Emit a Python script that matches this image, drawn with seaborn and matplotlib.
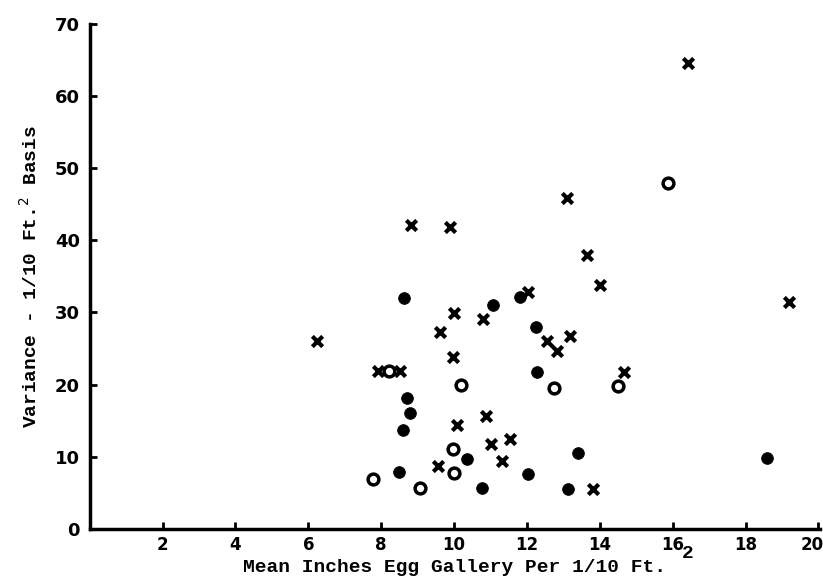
import matplotlib
matplotlib.use('Agg')
from matplotlib import pyplot as plt
from matplotlib import transforms
import seaborn as sns

# solid dots
dot_x = [8.62, 11.08, 11.81, 12.24, 12.29, 8.70, 8.79, 8.61, 10.35, 8.50, 12.02, 10.76, 13.14, 13.41, 18.58]
dot_y = [31.96, 31.0, 32.2, 28.03, 21.7, 18.14, 16.1, 13.7, 9.63, 7.91, 7.59, 5.65, 5.47, 10.5, 9.85]

# ringed dots
ring_x = [8.21, 10.18, 12.75, 9.98, 10.0, 7.78, 9.06, 15.88, 14.49]
ring_y = [21.88, 19.94, 19.53, 11.0, 7.68, 6.85, 5.65, 48.02, 19.8]

# crosses
cross_x = [16.41, 8.82, 9.89, 13.11, 13.64, 14.0, 9.997, 10.80, 12.04, 6.23, 9.61, 12.56,
           12.82, 13.18, 9.98, 7.92, 8.53, 19.18, 14.66, 10.89, 10.09, 11.53, 11.01, 11.31,
           9.55, 13.82]
cross_y = [64.67, 42.1, 41.9, 45.85, 37.98, 33.8, 29.9, 29.06, 32.85, 26.05, 27.25, 26.05,
           24.66, 26.8, 23.87, 21.93, 21.93, 31.5, 21.8, 15.7, 14.35, 12.45, 11.75, 9.44,
           8.7, 5.55]

x_ticks = [2, 4, 6, 8, 10, 12, 14, 16, 18, 20]
y_ticks = [0, 10, 20, 30, 40, 50, 60, 70]

sns.set_style('ticks')
plt.rcParams['font.family'] = ['DejaVu Sans']
plt.rcParams['text.color'] = 'black'
plt.rcParams['axes.labelcolor'] = 'black'
plt.rcParams['xtick.color'] = 'black'
plt.rcParams['ytick.color'] = 'black'

fig = plt.figure(figsize=(8.23, 5.79), dpi=100)
ax = fig.add_axes([0.109, 0.087, 0.8876, 0.8711])

sns.scatterplot(x=dot_x, y=dot_y, marker='o', s=70, color='black', edgecolor='black', ax=ax)
sns.scatterplot(x=ring_x, y=ring_y, marker='o', s=60, facecolor='white', edgecolor='black',
                linewidth=2.5, ax=ax)
sns.scatterplot(x=cross_x, y=cross_y, marker='x', s=55, color='black', linewidth=3, ax=ax)

ax.set_xlim(0, 20.05)
ax.set_ylim(0, 70)
ax.set_xticks(x_ticks)
ax.set_yticks(y_ticks)
ax.set_xticklabels([str(t) for t in x_ticks], fontsize=12, fontweight='bold')
ax.set_yticklabels([str(t) for t in y_ticks], fontsize=13, fontweight='bold')
ax.tick_params(direction='in', length=5, width=2, colors='black', pad=7)
ax.tick_params(axis='x', pad=5)

# the "20" sits right at the edge, nudge it in a little
last = ax.get_xticklabels()[-1]
last.set_transform(last.get_transform() + transforms.ScaledTranslation(-0.06, 0, fig.dpi_scale_trans))

sns.despine(ax=ax)
for side in ['left', 'bottom']:
    ax.spines[side].set_linewidth(2.5)
    ax.spines[side].set_color('black')

ax.set_xlabel('Mean Inches Egg Gallery Per 1/10 Ft.', fontsize=14, fontweight='bold',
              family='Liberation Mono', labelpad=4)
ax.set_ylabel('Variance - 1/10 Ft.$^{2}$ Basis', fontsize=14, fontweight='bold',
              family='Liberation Mono', labelpad=10)
fig.text(688 / 823, 1 - 554 / 579, '2', fontsize=14, fontweight='bold',
         family='Liberation Mono', ha='center', va='center')

fig.savefig('out.png', dpi=100, facecolor='white')
